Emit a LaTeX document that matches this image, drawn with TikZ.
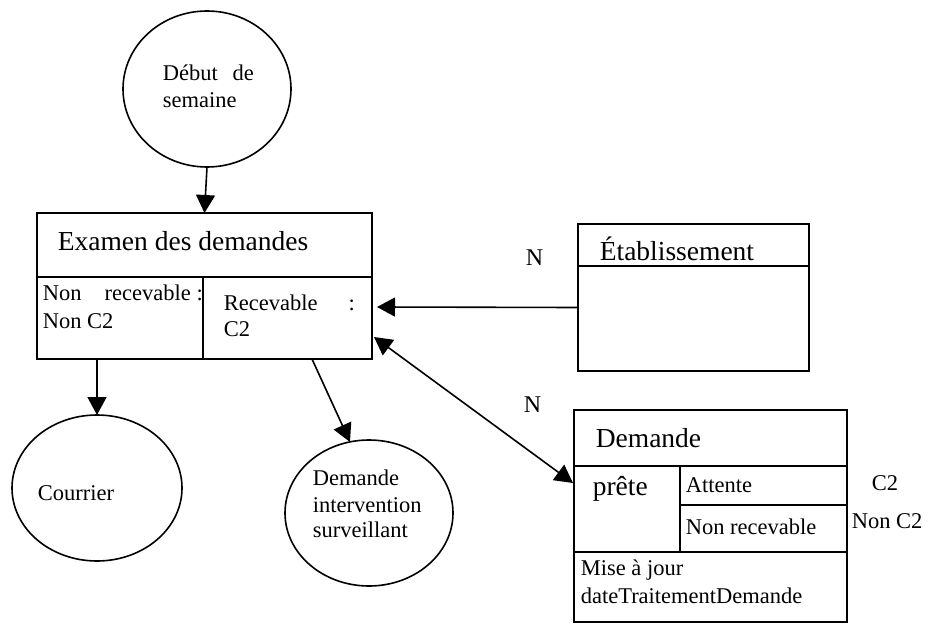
\documentclass[tikz,border=0pt]{standalone}
\usepackage{fontspec}
\setmainfont{Liberation Serif}
\usetikzlibrary{arrows.meta,shapes.geometric,calc}

\begin{document}
\begin{tikzpicture}[x=1pt,y=-1pt,
  line width=1.6pt,
  cell/.style={draw, rectangle, anchor=north west, inner sep=0pt, outer sep=0pt},
  oval/.style={draw, ellipse, inner sep=0pt, outer sep=0pt},
  txt/.style={anchor=base west, inner sep=0pt, font=\fontsize{22.5}{27}\selectfont},
  big/.style={anchor=base west, inner sep=0pt, font=\fontsize{27.5}{33}\selectfont},
  card/.style={anchor=base west, inner sep=0pt, font=\fontsize{24}{29}\selectfont},
  tip/.style={-{Triangle[length=18pt,width=19pt]}},
  tips/.style={{Triangle[length=18pt,width=19pt]}-{Triangle[length=18pt,width=19pt]}}
]
\useasboundingbox (0,0) rectangle (931,626);

% start event
\node[oval, minimum width=168pt, minimum height=156pt] (debut) at (207,89) {};
\node[txt] (debutA) at (162,80) {\hbox to 91pt{Début\hfill de}};
\node[txt] (debutB) at (162,107) {semaine};

% process: Examen des demandes
\node[cell, minimum width=335pt, minimum height=64pt] (exH) at (37,213) {};
\node[cell, minimum width=166pt, minimum height=82pt] (exL) at (37,277) {};
\node[cell, minimum width=169pt, minimum height=82pt] (exR) at (203,277) {};
\node[big] (exT) at (57,250) {Examen des demandes};
\node[txt] (exLa) at (42,300) {\hbox to 160pt{Non\hfill\ recevable :}};
\node[txt] (exLb) at (42,328) {Non C2};
\node[txt] (exRa) at (223,310) {\hbox to 131pt{Recevable\hfill:}};
\node[txt] (exRb) at (223,336) {C2};

% Établissement
\node[cell, minimum width=231pt, minimum height=42pt] (etabH) at (578,224) {};
\node[cell, minimum width=231pt, minimum height=105pt] (etabB) at (578,266) {};
\node[big] (etabT) at (599,260) {Établissement};

% Demande
\node[cell, minimum width=273pt, minimum height=56pt] (demH) at (574,410) {};
\node[cell, minimum width=106pt, minimum height=86pt] (pret) at (574,466) {};
\node[cell, minimum width=167pt, minimum height=39pt] (att) at (680,466) {};
\node[cell, minimum width=167pt, minimum height=47pt] (nonrec) at (680,505) {};
\node[cell, minimum width=273pt, minimum height=70pt] (maj) at (574,552) {};
\node[big] (demT) at (595,447) {Demande};
\node[big] (pretT) at (592,495) {prête};
\node[txt] (attT) at (685,492) {Attente};
\node[txt] (nonrecT) at (685,534) {Non recevable};
\node[txt] (majA) at (580,575) {Mise à jour};
\node[txt] (majB) at (580,603) {dateTraitementDemande};
\node[txt] (condA) at (871,490) {C2};
\node[txt] (condB) at (851,528) {Non C2};

% end events
\node[oval, minimum width=170pt, minimum height=146pt] (courrier) at (97,488) {};
\node[txt] (courrierT) at (37,500) {Courrier};
\node[oval, minimum width=168pt, minimum height=146pt] (interv) at (369,513) {};
\node[txt] (intervA) at (312,485) {Demande};
\node[txt] (intervB) at (312,512) {intervention};
\node[txt] (intervC) at (312,537) {surveillant};

% cardinalities
\node[card] (nEtab) at (525,265) {N};
\node[card] (nDem) at (523,412) {N};

% connectors
\coordinate (exRout) at ($(exR.south west)!0.645!(exR.south east)$);
\draw[tip] (debut.south) -- (exH.north);
\draw[tip] (exL.south -| courrier.north) -- (courrier.north);
\draw[tip] (exRout) -- (interv.105);
\draw[tip] ([yshift=11pt]etabB.west) -- ([xshift=5pt,yshift=11pt]exR.east);
\draw[tips] ([xshift=2pt,yshift=-19pt]exR.east) -- ([xshift=-1pt,yshift=-17pt]pret.north west);
\end{tikzpicture}
\end{document}
